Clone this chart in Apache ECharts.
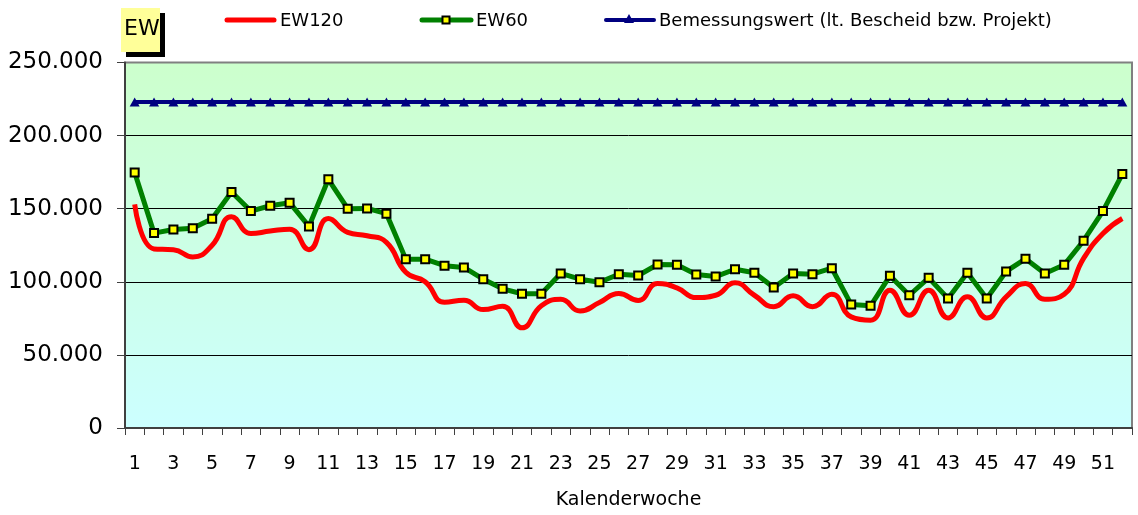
<!DOCTYPE html>
<html>
<head>
<meta charset="utf-8">
<script src="https://cdn.jsdelivr.net/npm/echarts@6/dist/echarts.min.js"></script>
<style>
html,body{margin:0;padding:0;background:#fff;}
#chart{width:1138px;height:515px;}
</style>
</head>
<body>
<div id="chart"></div>
<script>
var weeks = [];
for (var w = 1; w <= 52; w++) { weeks.push(String(w)); }

var ew120 = [153000, 122500, 122000, 117000, 125000, 144500, 133000, 134700, 136000, 122000,
             143300, 133800, 131500, 127000, 106500, 100000, 86000, 87400, 81000, 83300,
             68500, 83600, 88000, 80000, 85800, 92000, 87200, 98800, 95900, 89200,
             90800, 99300, 90800, 83000, 90400, 83000, 91500, 76000, 73700, 94200,
             77100, 94200, 75300, 89700, 75300, 89700, 98800, 88100, 91500, 116000,
             133100, 143300];

var ew60 = [174800, 133300, 135800, 136700, 143100, 161400, 148400, 152000, 154100, 137900,
            170100, 150000, 150200, 146600, 115500, 115500, 111000, 109800, 101800, 95200,
            91800, 91800, 105700, 101800, 99700, 105200, 104300, 111800, 111600, 105000,
            103600, 108600, 106200, 96100, 105700, 105200, 109300, 84400, 83600, 104100,
            90800, 102700, 88600, 106200, 88600, 107100, 115700, 105700, 111600, 128100,
            148400, 173700];

var bemessung = [223000, 223000, 223000, 223000, 223000, 223000, 223000, 223000, 223000, 223000,
                 223000, 223000, 223000, 223000, 223000, 223000, 223000, 223000, 223000, 223000,
                 223000, 223000, 223000, 223000, 223000, 223000, 223000, 223000, 223000, 223000,
                 223000, 223000, 223000, 223000, 223000, 223000, 223000, 223000, 223000, 223000,
                 223000, 223000, 223000, 223000, 223000, 223000, 223000, 223000, 223000, 223000,
                 223000, 223000];

var yTicks = [0, 50000, 100000, 150000, 200000, 250000];
var names = ['EW120', 'EW60', 'Bemessungswert (lt. Bescheid bzw. Projekt)'];

var FONT = 'DejaVu Sans';
function fmt(v) {
  return String(v).replace(/\B(?=(\d{3})+(?!\d))/g, '.');
}

var legFont = '18px "' + FONT + '"';
var LY = 20;
var legendGraphics = [
  // EW120
  {type: 'line', shape: {x1: 227, y1: LY, x2: 274, y2: LY}, style: {stroke: '#FF0000', lineWidth: 5, lineCap: 'round'}},
  {type: 'text', left: 280, top: LY - 8, style: {text: names[0], font: legFont, fill: '#000'}},
  // EW60
  {type: 'line', shape: {x1: 422, y1: LY, x2: 471, y2: LY}, style: {stroke: '#008000', lineWidth: 5, lineCap: 'round'}},
  {type: 'rect', shape: {x: 442.5, y: LY - 3.5, width: 7, height: 7}, style: {fill: '#FFFF00', stroke: '#000', lineWidth: 2}},
  {type: 'text', left: 476, top: LY - 8, style: {text: names[1], font: legFont, fill: '#000'}},
  // Bemessungswert
  {type: 'line', shape: {x1: 606, y1: LY, x2: 654, y2: LY}, style: {stroke: '#000080', lineWidth: 4, lineCap: 'round'}},
  {type: 'polygon', shape: {points: [[624, LY + 3], [629, LY - 6], [634, LY + 3]]}, style: {fill: '#000080'}},
  {type: 'text', left: 659, top: LY - 8, style: {text: names[2], font: legFont, fill: '#000'}}
];

var chart = echarts.init(document.getElementById('chart'), null, {renderer: 'canvas'});
chart.setOption({
  animation: false,
  backgroundColor: '#ffffff',
  textStyle: {fontFamily: FONT},
  legend: {show: false, data: names},
  graphic: [
    {type: 'rect', left: 126, top: 13, shape: {width: 39, height: 44}, style: {fill: '#000000'}, z: 10},
    {type: 'rect', left: 121, top: 8, shape: {width: 39, height: 44}, style: {fill: '#FFFF99'}, z: 11},
    {type: 'text', left: 124, top: 18, style: {text: 'EW', font: '22px "' + FONT + '"', fill: '#000'}, z: 12}
  ].concat(legendGraphics),
  grid: {
    left: 125, right: 6, top: 62.5, bottom: 85,
    show: true,
    backgroundColor: new echarts.graphic.LinearGradient(0, 0, 0, 1, [
      {offset: 0, color: '#CCFFCC'},
      {offset: 1, color: '#CCFFFF'}
    ]),
    borderColor: '#808080',
    borderWidth: 2
  },
  xAxis: {
    type: 'category',
    data: weeks,
    boundaryGap: true,
    name: 'Kalenderwoche',
    nameLocation: 'middle',
    nameGap: 63,
    nameTextStyle: {fontFamily: FONT, fontSize: 19, color: '#000'},
    axisLine: {lineStyle: {color: '#404040', width: 2}},
    axisTick: {show: true, interval: 0, length: 7, lineStyle: {color: '#404040', width: 1}},
    axisLabel: {interval: 1, margin: 27, fontFamily: FONT, fontSize: 19, color: '#000'}
  },
  yAxis: {
    type: 'value',
    min: 0, max: 250000, interval: 50000,
    axisLine: {show: true, lineStyle: {color: '#404040', width: 2}},
    axisTick: {show: true, length: 8, lineStyle: {color: '#404040'}},
    axisLabel: {margin: 22, fontFamily: FONT, fontSize: 23, color: '#000', formatter: fmt},
    splitLine: {show: true, lineStyle: {color: ['#404040', '#000', '#000', '#000', '#000', '#808080'], width: 1}}
  },
  series: [
    {
      name: names[0], type: 'line', data: ew120, smooth: 0.5,
      symbol: 'none',
      lineStyle: {color: '#FF0000', width: 5},
      itemStyle: {color: '#FF0000'},
      z: 3
    },
    {
      name: names[1], type: 'line', data: ew60,
      symbol: 'rect', symbolSize: 8,
      lineStyle: {color: '#008000', width: 5},
      itemStyle: {color: '#FFFF00', borderColor: '#000000', borderWidth: 2},
      z: 4
    },
    {
      name: names[2], type: 'line', data: bemessung,
      symbol: 'triangle', symbolSize: [10, 9],
      lineStyle: {color: '#000080', width: 4},
      itemStyle: {color: '#000080'},
      z: 5
    }
  ]
});
</script>
</body>
</html>
